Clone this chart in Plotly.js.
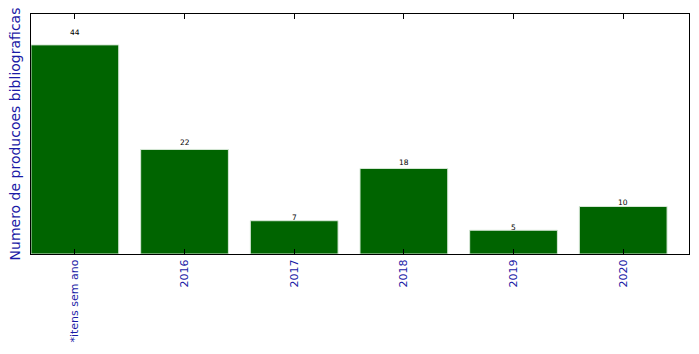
<!DOCTYPE html>
<html><head><meta charset="utf-8">
<script src="https://cdn.plot.ly/plotly-3.0.1.min.js"></script>
<style>body{margin:0;padding:0;background:#fff}#chart{width:699px;height:354px}</style>
</head><body><div id="chart"></div>
<script>
const categories = ["*itens sem ano", "2016", "2017", "2018", "2019", "2020"];
const values = [44, 22, 7, 18, 5, 10];
const yTitle = "Numero de producoes bibliograficas";

const xIdx = categories.map((c, i) => i);
const annotations = values.map((v, i) => ({
  x: i, y: v * 1.05, text: String(v), showarrow: false,
  xanchor: "center", yanchor: "bottom", yshift: -5,
  font: {family: "DejaVu Sans", size: 7.5, color: "#000"}
}));

const trace = {
  type: "bar", x: xIdx, y: values, width: 0.8,
  marker: {color: "#006400", line: {color: "#d8e8d8", width: 1}},
  hoverinfo: "none"
};

const layout = {
  width: 699, height: 354,
  margin: {l: 31, r: 10, t: 14, b: 100, pad: 0},
  paper_bgcolor: "#fff", plot_bgcolor: "#fff",
  showlegend: false,
  font: {family: "DejaVu Sans"},
  bargap: 0.2,
  xaxis: {
    range: [-0.4, 5.6], tickmode: "array", tickvals: xIdx, ticktext: categories,
    tickangle: -90, ticks: "inside", ticklen: 5, tickcolor: "#000", tickwidth: 1,
    mirror: "ticks", showline: true, linecolor: "#000", linewidth: 1.2,
    showgrid: false, zeroline: false,
    tickfont: {family: "DejaVu Sans", size: 11, color: "#1a1aa6"}
  },
  yaxis: {
    range: [0, 50.5], showticklabels: false, ticks: "",
    showline: true, mirror: true, linecolor: "#000", linewidth: 1.2,
    showgrid: false, zeroline: false,
    title: {text: yTitle, standoff: 6, font: {family: "DejaVu Sans", size: 14, color: "#1a1aa6"}}
  },
  annotations: annotations
};

Plotly.newPlot("chart", [trace], layout, {displayModeBar: false, staticPlot: true});
</script></body></html>
